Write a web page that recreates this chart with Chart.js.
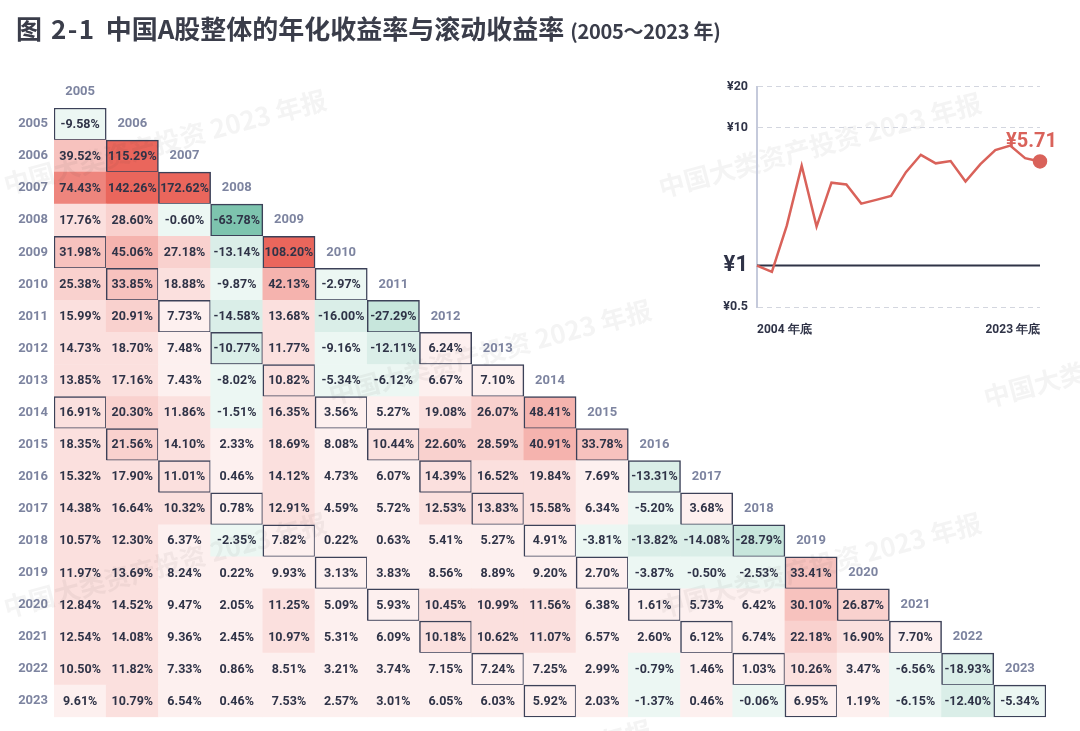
<!DOCTYPE html>
<html lang="zh">
<head>
<meta charset="utf-8">
<title>中国A股整体的年化收益率与滚动收益率</title>
<script src="https://cdn.jsdelivr.net/npm/chart.js@4.4.1/dist/chart.umd.min.js"></script>
<style>
  html, body { margin: 0; padding: 0; background: #fff; }
  body { width: 1080px; height: 731px; position: relative; overflow: hidden; font-family: "Noto Sans CJK SC", "Noto Sans", sans-serif; }
  #title { position: absolute; left: 16px; top: 8px; font-weight: 700; color: #3a3d4a; font-size: 26px; line-height: 40px; white-space: nowrap; }
  #title .num { letter-spacing: 1.5px; margin-right: 10px; }
  #title .sub { font-size: 20px; letter-spacing: -0.3px; }
  #heat { position: absolute; left: 0; top: 0; }
  #inset { position: absolute; left: 690px; top: 70px; }
</style>
</head>
<body>
<canvas id="heat" width="1080" height="731"></canvas>
<canvas id="inset" width="380" height="270"></canvas>
<div id="title"><span class="num">图 2-1</span>中国A股整体的年化收益率与滚动收益率 <span class="sub">(2005～2023 年)</span></div>
<script>
// start / end years of the holding period
const years = [2005, 2006, 2007, 2008, 2009, 2010, 2011, 2012, 2013, 2014,
               2015, 2016, 2017, 2018, 2019, 2020, 2021, 2022, 2023];

// annualised return (%) - one row per end year, one entry per start year
const returns = [
  [-9.58],
  [39.52, 115.29],
  [74.43, 142.26, 172.62],
  [17.76, 28.60, -0.60, -63.78],
  [31.98, 45.06, 27.18, -13.14, 108.20],
  [25.38, 33.85, 18.88, -9.87, 42.13, -2.97],
  [15.99, 20.91, 7.73, -14.58, 13.68, -16.00, -27.29],
  [14.73, 18.70, 7.48, -10.77, 11.77, -9.16, -12.11, 6.24],
  [13.85, 17.16, 7.43, -8.02, 10.82, -5.34, -6.12, 6.67, 7.10],
  [16.91, 20.30, 11.86, -1.51, 16.35, 3.56, 5.27, 19.08, 26.07, 48.41],
  [18.35, 21.56, 14.10, 2.33, 18.69, 8.08, 10.44, 22.60, 28.59, 40.91, 33.78],
  [15.32, 17.90, 11.01, 0.46, 14.12, 4.73, 6.07, 14.39, 16.52, 19.84, 7.69, -13.31],
  [14.38, 16.64, 10.32, 0.78, 12.91, 4.59, 5.72, 12.53, 13.83, 15.58, 6.34, -5.20, 3.68],
  [10.57, 12.30, 6.37, -2.35, 7.82, 0.22, 0.63, 5.41, 5.27, 4.91, -3.81, -13.82, -14.08, -28.79],
  [11.97, 13.69, 8.24, 0.22, 9.93, 3.13, 3.83, 8.56, 8.89, 9.20, 2.70, -3.87, -0.50, -2.53, 33.41],
  [12.84, 14.52, 9.47, 2.05, 11.25, 5.09, 5.93, 10.45, 10.99, 11.56, 6.38, 1.61, 5.73, 6.42, 30.10, 26.87],
  [12.54, 14.08, 9.36, 2.45, 10.97, 5.31, 6.09, 10.18, 10.62, 11.07, 6.57, 2.60, 6.12, 6.74, 22.18, 16.90, 7.70],
  [10.50, 11.82, 7.33, 0.86, 8.51, 3.21, 3.74, 7.15, 7.24, 7.25, 2.99, -0.79, 1.46, 1.03, 10.26, 3.47, -6.56, -18.93],
  [9.61, 10.79, 6.54, 0.46, 7.53, 2.57, 3.01, 6.05, 6.03, 5.92, 2.03, -1.37, 0.46, -0.06, 6.95, 1.19, -6.15, -12.40, -5.34]
];

// holding periods (years) that get a frame: 1-year, 5-year and 10-year windows
const framedSpans = [1, 5, 10];

// inset: value of 1 yuan invested at the end of 2004
const wealthYears = ['2004', '2005', '2006', '2007', '2008', '2009', '2010', '2011', '2012', '2013',
                     '2014', '2015', '2016', '2017', '2018', '2019', '2020', '2021', '2022', '2023'];
const wealth = [1.00, 0.90, 1.95, 5.31, 1.92, 4.00, 3.88, 2.82, 3.00, 3.21,
                4.77, 6.38, 5.53, 5.74, 4.08, 5.45, 6.91, 7.45, 6.03, 5.71];
const wealthTicks = [0.5, 1, 10, 20];

const RED = '#d9625a';
const INK = '#2f3347';
const HEAD = '#7d84a0';

// flatten the triangle into cells
const cells = [];
returns.forEach((row, r) => {
  row.forEach((v, c) => {
    cells.push({ start: years[c], end: years[r], v: v, span: r - c + 1 });
  });
});

// colour in 10% steps: red for gains, green for losses
function cellColor(v) {
  let base, t;
  if (v >= 0) {
    base = [234, 102, 92];
    t = Math.min(1, (Math.floor(v / 10) + 1) * 0.1);
  } else {
    base = [100, 185, 158];
    t = Math.min(1, (Math.floor(-v / 10) + 1) * 0.12);
  }
  const mix = base.map(ch => Math.round(255 - (255 - ch) * t));
  return 'rgb(' + mix.join(',') + ')';
}

const heatText = {
  id: 'heatText',
  afterDatasetsDraw(chart) {
    const { ctx } = chart;
    const x = chart.scales.x, y = chart.scales.y;

    // watermark
    ctx.save();
    ctx.fillStyle = 'rgba(60,60,60,0.055)';
    ctx.font = '700 26px "Noto Sans CJK SC"';
    ctx.textAlign = 'center';
    ctx.textBaseline = 'middle';
    [[165, 142], [820, 145], [490, 352], [1145, 355], [165, 565], [820, 565], [490, 772]].forEach(p => {
      ctx.save();
      ctx.translate(p[0], p[1]);
      ctx.rotate(-15 * Math.PI / 180);
      ctx.fillText('中国大类资产投资 2023 年报', 0, 0);
      ctx.restore();
    });
    ctx.restore();

    // cell values
    const meta = chart.getDatasetMeta(0);
    ctx.save();
    ctx.textAlign = 'center';
    ctx.textBaseline = 'middle';
    ctx.fillStyle = INK;
    ctx.font = '700 12.5px Roboto';
    meta.data.forEach((bar, i) => {
      ctx.fillText(cells[i].v.toFixed(2) + '%', bar.x, (bar.y + bar.base) / 2 + 0.5);
    });

    // start-year headers sit just above the diagonal
    ctx.fillStyle = HEAD;
    ctx.font = '700 13px Roboto';
    years.forEach(yr => {
      ctx.fillText(String(yr), x.getPixelForValue(yr), y.getPixelForValue(yr - 1));
    });
    ctx.restore();
  }
};

new Chart(document.getElementById('heat'), {
  type: 'bar',
  data: {
    datasets: [{
      data: cells.map(c => ({ x: c.start, y: [c.end - 0.5, c.end + 0.5] })),
      backgroundColor: cells.map(c => cellColor(c.v)),
      borderColor: cells.map(c => framedSpans.includes(c.span) ? '#3c4158' : 'rgba(0,0,0,0)'),
      borderWidth: cells.map(c => framedSpans.includes(c.span) ? 1.5 : 0),
      borderSkipped: false,
      barPercentage: 1,
      categoryPercentage: 1
    }]
  },
  options: {
    responsive: false,
    animation: false,
    layout: { padding: { top: 108, right: 34, bottom: 12, left: 0 } },
    plugins: { legend: { display: false }, tooltip: { enabled: false } },
    scales: {
      x: {
        type: 'linear',
        min: 2004.5,
        max: 2023.5,
        offset: false,
        grid: { offset: false },
        display: false,
        afterBuildTicks: s => { s.ticks = years.map(v => ({ value: v })); }
      },
      y: {
        type: 'linear',
        reverse: true,
        min: 2004.5,
        max: 2023.5,
        afterBuildTicks: s => { s.ticks = years.map(v => ({ value: v })); },
        afterFit: s => { s.width = 54; },
        grid: { display: false, drawTicks: false },
        border: { display: false },
        ticks: {
          padding: 6,
          color: HEAD,
          font: { family: 'Roboto', size: 13, weight: '700' },
          callback: v => String(v)
        }
      }
    }
  },
  plugins: [heatText]
});

const insetMarks = {
  id: 'insetMarks',
  beforeDatasetsDraw(chart) {
    const { ctx, chartArea } = chart;
    const py = chart.scales.y.getPixelForValue(1);
    ctx.save();
    ctx.strokeStyle = INK;
    ctx.lineWidth = 2;
    ctx.beginPath();
    ctx.moveTo(chartArea.left, py);
    ctx.lineTo(chartArea.right, py);
    ctx.stroke();
    ctx.restore();
  },
  afterDatasetsDraw(chart) {
    const { ctx } = chart;
    const pts = chart.getDatasetMeta(0).data;
    const last = pts[pts.length - 1];
    ctx.save();
    ctx.fillStyle = RED;
    ctx.font = '700 20px Roboto';
    ctx.textAlign = 'right';
    ctx.textBaseline = 'middle';
    ctx.fillText('¥' + wealth[wealth.length - 1].toFixed(2), last.x + 17, last.y - 19);
    ctx.restore();
  }
};

new Chart(document.getElementById('inset'), {
  type: 'line',
  data: {
    labels: wealthYears,
    datasets: [{
      data: wealth,
      borderColor: RED,
      backgroundColor: RED,
      borderWidth: 2.5,
      tension: 0,
      clip: false,
      pointRadius: ctx => ctx.dataIndex === wealth.length - 1 ? 6 : 0,
      pointHoverRadius: 0
    }]
  },
  options: {
    responsive: false,
    animation: false,
    layout: { padding: { top: 14, right: 30, bottom: 3, left: 0 } },
    plugins: { legend: { display: false }, tooltip: { enabled: false } },
    scales: {
      x: {
        grid: { display: false },
        border: { display: false },
        afterFit: s => { s.height = 30; },
        ticks: {
          autoSkip: false,
          maxRotation: 0,
          align: 'inner',
          padding: 8,
          color: INK,
          font: { family: 'Roboto', size: 12, weight: '700' },
          callback: (v, i) => (i === 0 || i === wealthYears.length - 1) ? wealthYears[i] + ' 年底' : ''
        }
      },
      y: {
        type: 'logarithmic',
        min: 0.5,
        max: 20,
        afterBuildTicks: s => { s.ticks = wealthTicks.map(v => ({ value: v })); },
        afterFit: s => { s.width = 67; },
        grid: {
          color: ctx => ctx.tick && ctx.tick.value === 1 ? 'rgba(0,0,0,0)' : '#d3d6df',
          lineWidth: 1,
          drawTicks: false
        },
        border: { color: '#c5cadb', width: 2, dash: [5, 4] },
        ticks: {
          padding: 9,
          color: INK,
          font: ctx => (ctx.tick && ctx.tick.value === 1)
            ? { family: 'Roboto', size: 22, weight: '700' }
            : { family: 'Roboto', size: 12.5, weight: '700' },
          callback: v => '¥' + v
        }
      }
    }
  },
  plugins: [insetMarks]
});
</script>
</body>
</html>
